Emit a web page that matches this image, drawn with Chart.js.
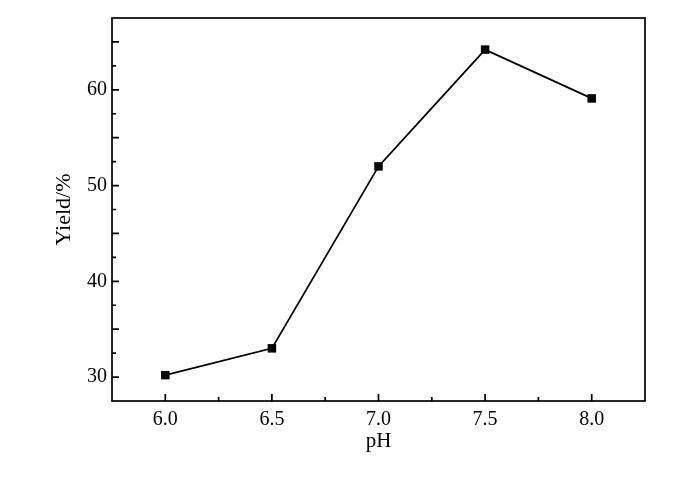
<!DOCTYPE html>
<html>
<head>
<meta charset="utf-8">
<script src="https://cdn.jsdelivr.net/npm/chart.js@4/dist/chart.umd.min.js"></script>
<style>
  html, body { margin: 0; padding: 0; background: #fff; }
  #wrap { width: 700px; height: 481px; }
</style>
</head>
<body>
<div id="wrap"><canvas id="chart"></canvas></div>
<script>
// data
const phValues = [6.0, 6.5, 7.0, 7.5, 8.0];
const yieldValues = [30.2, 33.0, 52.0, 64.2, 59.1];
const xTickLabels = ['6.0', '6.5', '7.0', '7.5', '8.0'];
const yTickLabels = [30, 40, 50, 60];

const FONT = "'Liberation Serif', 'Times New Roman', serif";

// frame + inward ticks (long on major, short on minor)
const framePlugin = {
    id: 'frame',
    afterDraw(chart) {
        const ctx = chart.ctx;
        const a = chart.chartArea;
        const xs = chart.scales.x, ys = chart.scales.y;
        ctx.save();
        ctx.strokeStyle = '#000';
        ctx.lineWidth = 1.7;
        ctx.strokeRect(a.left, a.top, a.right - a.left, a.bottom - a.top);

        ctx.beginPath();
        xs.ticks.forEach(t => {
            const px = xs.getPixelForValue(t.value);
            if (px <= a.left + 1 || px >= a.right - 1) return;
            const major = Math.abs(t.value * 2 - Math.round(t.value * 2)) < 1e-6;
            const len = major ? 7 : 4;
            ctx.moveTo(px, a.bottom);
            ctx.lineTo(px, a.bottom - len);
        });
        ys.ticks.forEach(t => {
            const py = ys.getPixelForValue(t.value);
            if (py <= a.top + 1 || py >= a.bottom - 1) return;
            const major = Math.abs(t.value / 5 - Math.round(t.value / 5)) < 1e-6;
            const len = major ? 7 : 4;
            ctx.moveTo(a.left, py);
            ctx.lineTo(a.left + len, py);
        });
        ctx.stroke();
        ctx.restore();
    }
};

const ctx = document.getElementById('chart').getContext('2d');
new Chart(ctx, {
    type: 'scatter',
    data: {
        datasets: [{
            data: phValues.map((x, i) => ({ x: x, y: yieldValues[i] })),
            showLine: true,
            borderColor: '#000',
            borderWidth: 1.8,
            backgroundColor: '#000',
            pointStyle: 'rect',
            pointRadius: 6,
            pointHoverRadius: 6,
            pointBorderWidth: 0,
            tension: 0
        }]
    },
    options: {
        responsive: true,
        maintainAspectRatio: false,
        animation: false,
        layout: { padding: { top: 18, right: 55, left: 51, bottom: 27 } },
        plugins: {
            legend: { display: false },
            tooltip: { enabled: false }
        },
        scales: {
            x: {
                type: 'linear',
                min: 5.75,
                max: 8.25,
                grid: { display: false, drawTicks: false },
                border: { display: false },
                ticks: {
                    stepSize: 0.25,
                    autoSkip: false,
                    maxRotation: 0,
                    padding: 7,
                    color: '#000',
                    font: { family: FONT, size: 20 },
                    callback: function(v) {
                        const s = Number(v).toFixed(1);
                        return xTickLabels.includes(s) && Math.abs(v * 2 - Math.round(v * 2)) < 1e-6 ? s : '';
                    }
                },
                title: {
                    display: true,
                    text: 'pH',
                    color: '#000',
                    font: { family: FONT, size: 21 },
                    padding: { top: 0, bottom: 0 }
                },
                afterFit: function(scale) { scale.height = 53; }
            },
            y: {
                type: 'linear',
                min: 27.5,
                max: 67.5,
                grid: { display: false, drawTicks: false },
                border: { display: false },
                ticks: {
                    stepSize: 2.5,
                    autoSkip: false,
                    padding: 5,
                    color: '#000',
                    font: { family: FONT, size: 20 },
                    callback: function(v) {
                        return yTickLabels.includes(v) ? String(v) : '';
                    }
                },
                title: {
                    display: true,
                    text: 'Yield/%',
                    color: '#000',
                    font: { family: FONT, size: 22 },
                    padding: { top: 0, bottom: 0 }
                },
                afterFit: function(scale) { scale.width = 61; }
            }
        }
    },
    plugins: [framePlugin]
});
</script>
</body>
</html>
